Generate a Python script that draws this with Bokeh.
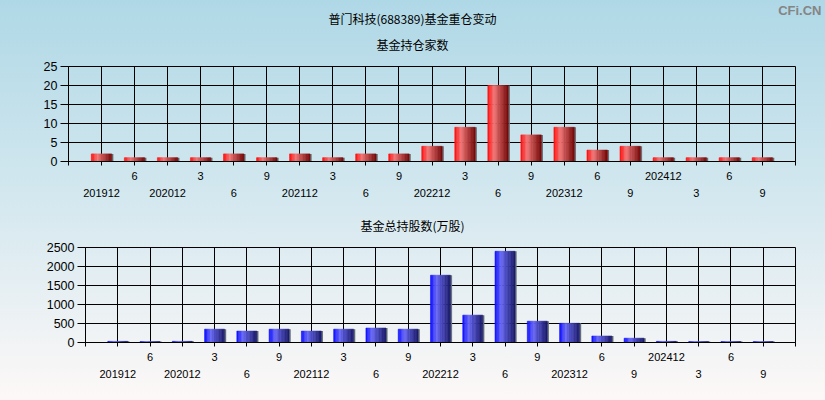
from bokeh.plotting import figure
from bokeh.layouts import column
from bokeh.models import (ColumnDataSource, FixedTicker, LinearAxis, Range1d,
                          GlobalInlineStyleSheet)
from bokeh.core.properties import value
from bokeh.embed import file_html
from bokeh.resources import INLINE

# ---------------- data ----------------
periods = ["201912", "202006", "202012", "202103", "202106", "202109", "202112",
           "202203", "202206", "202209", "202212", "202303", "202306", "202309",
           "202312", "202406", "202409", "202412", "202503", "202506", "202509"]
fund_counts = [2, 1, 1, 1, 2, 1, 2, 1, 2, 2, 4, 9, 20, 7, 9, 3, 4, 1, 1, 1, 1]
fund_shares = [30, 25, 30, 350, 300, 350, 300, 350, 380, 350, 1770, 720, 2400,
               560, 505, 170, 113, 30, 25, 25, 25]
count_ticks = [0, 5, 10, 15, 20, 25]
share_ticks = [0, 500, 1000, 1500, 2000, 2500]
main_title = "普门科技(688389)基金重仓变动"
count_title = "基金持仓家数"
share_title = "基金总持股数(万股)"
watermark = "CFi.CN"

NUM_FONT = "Liberation Sans"
CJK_FONT = "Noto Sans CJK SC"
W = 825
RIGHT = 30
FRAME_H = 95

RED_STOPS = [(0.0, (255, 20, 20)), (0.3, (243, 118, 118)), (1.0, (122, 12, 12))]
BLUE_STOPS = [(0.0, (20, 20, 255)), (0.3, (105, 105, 245)), (1.0, (28, 28, 110))]


def period_label(s):
    return s if s.endswith("12") else str(int(s[4:]))


def grad(stops, t):
    for (t0, c0), (t1, c1) in zip(stops[:-1], stops[1:]):
        if t <= t1:
            f = (t - t0) / (t1 - t0)
            c = [round(a + (b - a) * f) for a, b in zip(c0, c1)]
            return "#%02x%02x%02x" % tuple(c)
    return "#%02x%02x%02x" % stops[-1][1]


def make_header(height, texts):
    h = figure(frame_width=W, frame_height=height, output_backend="svg",
               toolbar_location=None, x_axis_type=None, y_axis_type=None,
               x_range=Range1d(0, W), y_range=Range1d(height, 0),
               min_border=0, min_border_left=0, min_border_right=0,
               min_border_top=0, min_border_bottom=0, frame_align=False)
    h.background_fill_color = None
    h.border_fill_color = None
    h.outline_line_color = None
    h.grid.visible = False
    for (x, y, t, align, font, size, style, color) in texts:
        h.text(x=[x], y=[y], text=[t], text_align=align, text_baseline="middle",
               text_font=value(font), text_font_size=size, text_font_style=style,
               text_color=color)
    return h


def make_chart(values, yticks, left, top, bottom, stops):
    n = len(values)
    frame_w = W - left - RIGHT
    p = figure(frame_width=frame_w, frame_height=FRAME_H, output_backend="svg",
               toolbar_location=None, frame_align=False,
               x_range=Range1d(0, n + 1), y_range=Range1d(yticks[0], yticks[-1]),
               min_border_left=left, min_border_right=RIGHT,
               min_border_top=top, min_border_bottom=bottom)
    p.background_fill_color = None
    p.border_fill_color = None
    p.outline_line_color = "black"
    p.outline_line_width = 1

    p.xgrid.ticker = FixedTicker(ticks=list(range(0, n + 2)))
    p.ygrid.ticker = FixedTicker(ticks=yticks)
    for g in (p.xgrid[0], p.ygrid[0]):
        g.grid_line_color = "black"
        g.grid_line_alpha = 1
        g.grid_line_width = 1

    ya = p.yaxis[0]
    ya.ticker = FixedTicker(ticks=yticks)
    ya.axis_line_color = "black"
    ya.major_tick_line_color = "black"
    ya.major_tick_out = 8
    ya.major_tick_in = 0
    ya.minor_tick_line_color = None
    ya.major_label_standoff = 3
    ya.major_label_text_font = NUM_FONT
    ya.major_label_text_font_size = "12.5px"
    ya.major_label_text_color = "black"

    labels = [period_label(s) for s in periods]
    xa = p.xaxis[0]
    xa.ticker = FixedTicker(ticks=list(range(0, n + 2)))
    over1 = {}
    for k in range(0, n + 2):
        over1[k] = labels[k - 1] if (1 <= k <= n and k % 2 == 0) else ""
    xa.major_label_overrides = over1
    xa.axis_line_color = "black"
    xa.major_tick_line_color = "black"
    xa.major_tick_out = 4
    xa.major_tick_in = 0
    xa.minor_tick_line_color = None
    xa.major_label_standoff = 6
    xa.major_label_text_font = NUM_FONT
    xa.major_label_text_font_size = "11px"
    xa.major_label_text_color = "black"

    odd = [k for k in range(1, n + 1) if k % 2 == 1]
    xa2 = LinearAxis(ticker=FixedTicker(ticks=odd),
                     major_label_overrides={k: labels[k - 1] for k in odd})
    xa2.axis_line_color = None
    xa2.major_tick_line_color = None
    xa2.minor_tick_line_color = None
    xa2.major_tick_out = 0
    xa2.major_tick_in = 0
    xa2.major_label_standoff = 6
    xa2.major_label_text_font = NUM_FONT
    xa2.major_label_text_font_size = "11px"
    xa2.major_label_text_color = "black"
    p.add_layout(xa2, "below")

    hw = 0.31
    nstrip = 14
    shadow = 1.6 * (n + 1) / frame_w
    L, R, T, C = [], [], [], []
    SL, SR, ST = [], [], []
    for i, v in enumerate(values):
        xc = i + 1
        x0 = xc - hw
        dw = 2 * hw / nstrip
        for k in range(nstrip):
            L.append(x0 + k * dw)
            R.append(x0 + (k + 1) * dw)
            T.append(v)
            C.append(grad(stops, k / (nstrip - 1)))
        SL.append(xc + hw)
        SR.append(xc + hw + shadow)
        ST.append(v)
    p.quad(left=SL, right=SR, top=ST, bottom=[0] * len(ST),
           fill_color="#68737a", line_color=None)
    src = ColumnDataSource(dict(left=L, right=R, top=T, bottom=[0] * len(T), color=C))
    p.quad(left="left", right="right", top="top", bottom="bottom", source=src,
           fill_color="color", line_color="color", line_width=0.6)
    return p


# header 1: canvas y 0..58
h1 = make_header(58, [
    (412, 18, main_title, "center", CJK_FONT, "12px", "normal", "black"),
    (821, 10, watermark, "right", NUM_FONT, "13px", "bold", "#858585"),
    (412, 44, count_title, "center", CJK_FONT, "12px", "normal", "black"),
])
# chart 1: canvas y 58..210, frame 66..161
p1 = make_chart(fund_counts, count_ticks, 68, 8, 49, RED_STOPS)
# header 2: canvas y 210..239
h2 = make_header(29, [
    (412, 15, share_title, "center", CJK_FONT, "12px", "normal", "black"),
])
# chart 2: canvas y 239..400, frame 247..342
p2 = make_chart(fund_shares, share_ticks, 85, 8, 58, BLUE_STOPS)

page = column(h1, p1, h2, p2, spacing=0,
              styles={"background": "linear-gradient(to bottom, #afd8e6 0%, #d4e8ef 50%, #fdf8f7 100%)"},
              stylesheets=[GlobalInlineStyleSheet(css="html, body { margin: 0; padding: 0; }")])

open("out.html", "w").write(file_html(page, INLINE))
